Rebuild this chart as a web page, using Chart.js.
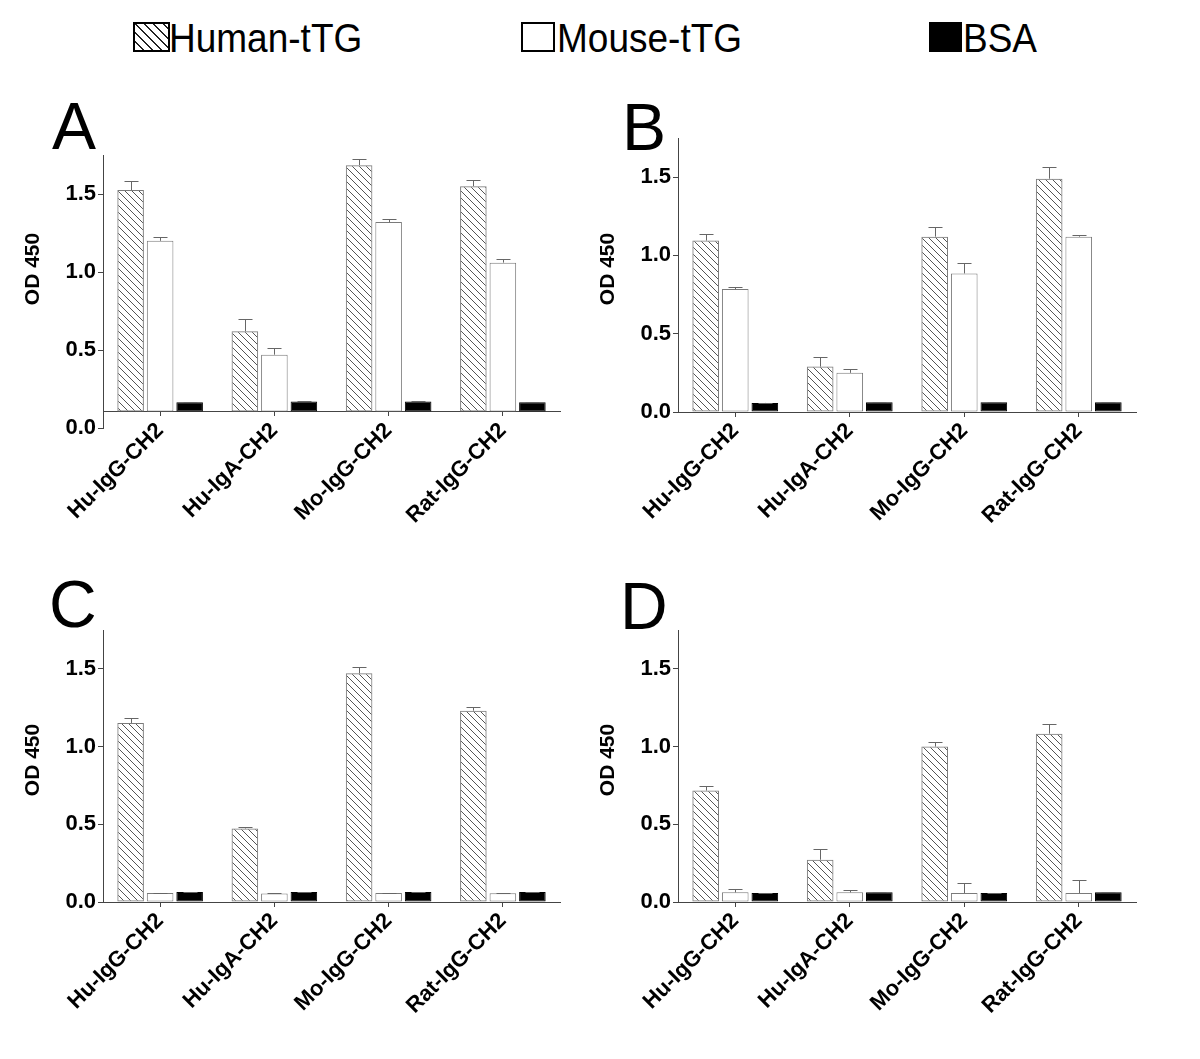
<!DOCTYPE html>
<html>
<head>
<meta charset="utf-8">
<title>OD 450 - tTG binding</title>
<script src="https://cdn.jsdelivr.net/npm/chart.js@4.4.1/dist/chart.umd.min.js"></script>
<style>
  body { margin: 0; background: #fff; font-family: 'Liberation Sans', Arial, sans-serif; }
  #page { position: relative; width: 1200px; height: 1059px; overflow: hidden; background: #fff; }
  canvas { position: absolute; }
  .swatch { position: absolute; top: 22px; height: 30px; box-sizing: border-box; border: 2px solid #000; }
  .keytext { position: absolute; top: 21px; font-size: 37px; line-height: 37px; color: #000; white-space: nowrap;
             transform: scaleY(1.1); transform-origin: 0 31px; }
  .letter { position: absolute; font-size: 66px; line-height: 66px; color: #000; }
</style>
</head>
<body>
<div id="page">
  <!-- legend -->
  <div class="swatch" style="left:133px; width:37px; background: repeating-linear-gradient(45deg, #fff 0 5px, #222 5px 6.5px);"></div>
  <div class="keytext" style="left:169px;">Human-tTG</div>
  <div class="swatch" style="left:521px; width:34px; background:#fff;"></div>
  <div class="keytext" style="left:557px;">Mouse-tTG</div>
  <div class="swatch" style="left:929px; width:33px; background:#000;"></div>
  <div class="keytext" style="left:963px;">BSA</div>

  <!-- panel letters -->
  <div class="letter" style="left:52px; top:93px;">A</div>
  <div class="letter" style="left:622px; top:94px;">B</div>
  <div class="letter" style="left:49px; top:571px;">C</div>
  <div class="letter" style="left:620px; top:573px;">D</div>

  <canvas id="chartA" width="600" height="470" style="left:0px; top:80px;"></canvas>
  <canvas id="chartB" width="600" height="470" style="left:575px; top:80px;"></canvas>
  <canvas id="chartC" width="600" height="480" style="left:0px; top:560px;"></canvas>
  <canvas id="chartD" width="600" height="480" style="left:575px; top:560px;"></canvas>
</div>

<script>
// Categories, series and axis ticks
const categories = ['Hu-IgG-CH2', 'Hu-IgA-CH2', 'Mo-IgG-CH2', 'Rat-IgG-CH2'];
const seriesNames = ['Human-tTG', 'Mouse-tTG', 'BSA'];
const yTicks = [0, 0.5, 1.0, 1.5];
const yMax = 1.75;
const yTitle = 'OD 450';

// Panel A (x axis crosses at 0.105)
const aHuman = [1.525, 0.62, 1.685, 1.55];
const aHumanErr = [0.06, 0.08, 0.04, 0.04];
const aMouse = [1.20, 0.47, 1.32, 1.06];
const aMouseErr = [0.027, 0.045, 0.02, 0.023];
const aBsa = [0.165, 0.17, 0.17, 0.165];
const aBsaErr = [0.003, 0.003, 0.003, 0.003];

// Panel B
const bHuman = [1.095, 0.29, 1.12, 1.49];
const bHumanErr = [0.04, 0.06, 0.06, 0.075];
const bMouse = [0.785, 0.25, 0.885, 1.12];
const bMouseErr = [0.012, 0.027, 0.064, 0.012];
const bBsa = [0.058, 0.062, 0.062, 0.062];
const bBsaErr = [0.002, 0.002, 0.002, 0.002];

// Panel C
const cHuman = [1.152, 0.473, 1.471, 1.231];
const cHumanErr = [0.034, 0.011, 0.043, 0.023];
const cMouse = [0.058, 0.055, 0.058, 0.057];
const cMouseErr = [0.002, 0.002, 0.003, 0.002];
const cBsa = [0.064, 0.064, 0.064, 0.064];
const cBsaErr = [0.002, 0.002, 0.002, 0.002];

// Panel D
const dHuman = [0.717, 0.272, 1.0, 1.083];
const dHumanErr = [0.028, 0.066, 0.032, 0.065];
const dMouse = [0.062, 0.062, 0.058, 0.058];
const dMouseErr = [0.023, 0.013, 0.062, 0.082];
const dBsa = [0.058, 0.062, 0.058, 0.062];
const dBsaErr = [0.002, 0.002, 0.002, 0.002];

const FONT = "'Liberation Sans', Arial, sans-serif";
const AXIS = '#444';

// Diagonal hatch fill for the Human-tTG bars
function makeHatch() {
    const c = document.createElement('canvas');
    c.width = 7;
    c.height = 7;
    const g = c.getContext('2d');
    g.strokeStyle = '#555';
    g.lineWidth = 1;
    g.beginPath();
    g.moveTo(-1, -1); g.lineTo(8, 8);
    g.moveTo(-1, 6); g.lineTo(1, 8);
    g.moveTo(6, -1); g.lineTo(8, 1);
    g.stroke();
    return g.createPattern(c, 'repeat');
}
const hatch = makeHatch();

// Upper error bars (mean + SEM) drawn from each dataset's "errors" list
const errorBars = {
    id: 'errorBars',
    afterDatasetsDraw(chart) {
        const ctx = chart.ctx;
        const yScale = chart.scales.y;
        ctx.save();
        ctx.strokeStyle = '#666';
        ctx.lineWidth = 1;
        chart.data.datasets.forEach((ds, i) => {
            const meta = chart.getDatasetMeta(i);
            meta.data.forEach((bar, j) => {
                const x = Math.round(bar.x) + 0.5;
                const top = Math.round(yScale.getPixelForValue(ds.data[j] + ds.errors[j])) + 0.5;
                ctx.beginPath();
                ctx.moveTo(x, bar.y);
                ctx.lineTo(x, top);
                ctx.moveTo(x - 7, top);
                ctx.lineTo(x + 7, top);
                ctx.stroke();
            });
        });
        ctx.restore();
    }
};

// Rotated y axis title, centred a little above the middle of the axis like the original
const axisTitle = {
    id: 'axisTitle',
    afterDraw(chart, args, opts) {
        const ctx = chart.ctx;
        ctx.save();
        ctx.translate(opts.x, opts.y);
        ctx.rotate(-Math.PI / 2);
        ctx.font = 'bold 21px ' + FONT;
        ctx.fillStyle = '#000';
        ctx.textAlign = 'center';
        ctx.textBaseline = 'middle';
        ctx.fillText(opts.text, 0, 0);
        ctx.restore();
    }
};

function drawPanel(id, human, humanErr, mouse, mouseErr, bsa, bsaErr, axisBase, pad, titleY) {
    const common = { base: axisBase, borderSkipped: false, categoryPercentage: 0.775, barPercentage: 0.9 };
    new Chart(document.getElementById(id), {
        type: 'bar',
        data: {
            labels: categories,
            datasets: [
                Object.assign({ label: seriesNames[0], data: human, errors: humanErr,
                    backgroundColor: hatch, borderColor: '#7a7a7a', borderWidth: 1 }, common),
                Object.assign({ label: seriesNames[1], data: mouse, errors: mouseErr,
                    backgroundColor: '#fff', borderColor: '#7a7a7a', borderWidth: 1 }, common),
                Object.assign({ label: seriesNames[2], data: bsa, errors: bsaErr,
                    backgroundColor: '#000', borderColor: '#000', borderWidth: 1 }, common)
            ]
        },
        options: {
            responsive: false,
            animation: false,
            devicePixelRatio: 1,
            layout: { padding: pad },
            plugins: {
                legend: { display: false },
                tooltip: { enabled: false },
                axisTitle: { text: yTitle, x: 33, y: titleY }
            },
            scales: {
                x: {
                    type: 'category',
                    position: { y: axisBase },
                    offset: true,
                    grid: { display: true, offset: false, drawOnChartArea: false, drawTicks: true, tickLength: 4, color: AXIS },
                    border: { display: true, color: AXIS, width: 1 },
                    ticks: {
                        autoSkip: false, minRotation: 45, maxRotation: 45, padding: 2, color: '#000',
                        font: { family: FONT, size: 22, weight: 'bold' }
                    }
                },
                y: {
                    min: 0,
                    max: yMax,
                    afterFit: s => { s.width = 103; },
                    afterBuildTicks: s => { s.ticks = yTicks.map(v => ({ value: v })); },
                    grid: { display: true, drawOnChartArea: false, drawTicks: true, tickLength: 5, color: AXIS },
                    border: { display: true, color: AXIS, width: 1 },
                    ticks: {
                        padding: 2, color: '#000',
                        font: { family: FONT, size: 22, weight: 'bold' },
                        callback: v => Number(v).toFixed(1)
                    }
                }
            }
        },
        plugins: [errorBars, axisTitle]
    });
}

drawPanel('chartA', aHuman, aHumanErr, aMouse, aMouseErr, aBsa, aBsaErr, 0.105, { left: 0, top: 75, right: 40, bottom: 122 }, 189);
drawPanel('chartB', bHuman, bHumanErr, bMouse, bMouseErr, bBsa, bBsaErr, 0, { left: 0, top: 58, right: 39, bottom: 138 }, 189);
drawPanel('chartC', cHuman, cHumanErr, cMouse, cMouseErr, cBsa, cBsaErr, 0, { left: 0, top: 70, right: 40, bottom: 138 }, 200);
drawPanel('chartD', dHuman, dHumanErr, dMouse, dMouseErr, dBsa, dBsaErr, 0, { left: 0, top: 70, right: 39, bottom: 138 }, 200);
</script>
</body>
</html>
